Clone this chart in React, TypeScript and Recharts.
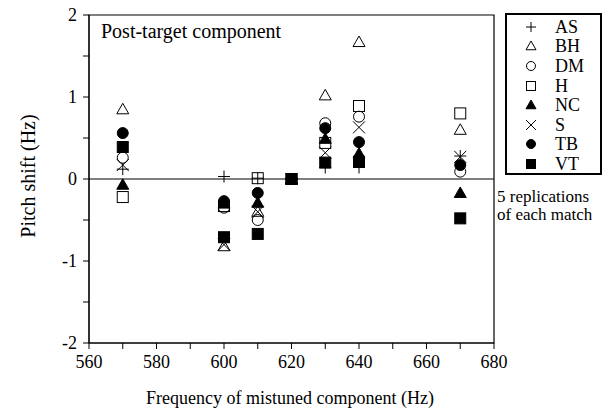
import React from "react";
import {
  ScatterChart,
  Scatter,
  XAxis,
  YAxis,
  ReferenceLine,
  ReferenceArea,
} from "recharts";

// mistuned component frequencies (Hz)
const freqs = [570, 600, 610, 620, 630, 640, 670];

// pitch shift (Hz) per listener, one value per frequency
const asShift = [0.12, 0.03, 0.01, 0, 0.14, 0.14, 0.28];
const bhShift = [0.85, -0.82, -0.4, 0, 1.02, 1.67, 0.6];
const dmShift = [0.26, -0.35, -0.5, 0, 0.68, 0.76, 0.09];
const hShift = [-0.22, -0.33, 0.01, 0, 0.44, 0.89, 0.8];
const ncShift = [-0.07, -0.3, -0.29, 0, 0.49, 0.31, -0.17];
const sShift = [0.17, -0.8, -0.4, 0, 0.32, 0.63, 0.27];
const tbShift = [0.56, -0.27, -0.17, 0, 0.62, 0.45, 0.17];
const vtShift = [0.39, -0.71, -0.67, 0, 0.2, 0.21, -0.48];

const xTicks = [560, 570, 580, 590, 600, 610, 620, 630, 640, 650, 660, 670, 680];
const yTicks = [-2, -1.5, -1, -0.5, 0, 0.5, 1, 1.5, 2];

type Kind = "plus" | "tri" | "circle" | "square" | "triFill" | "cross" | "dot" | "block";

const series: { name: string; kind: Kind; values: number[] }[] = [
  { name: "AS", kind: "plus", values: asShift },
  { name: "BH", kind: "tri", values: bhShift },
  { name: "DM", kind: "circle", values: dmShift },
  { name: "H", kind: "square", values: hShift },
  { name: "NC", kind: "triFill", values: ncShift },
  { name: "S", kind: "cross", values: sShift },
  { name: "TB", kind: "dot", values: tbShift },
  { name: "VT", kind: "block", values: vtShift },
];

const FONT = "'Times New Roman', 'Liberation Serif', Times, serif";

const Marker = ({ cx, cy, kind, r = 6 }: { cx: number; cy: number; kind: Kind; r?: number }) => {
  const s = 1;
  switch (kind) {
    case "plus":
      return (
        <g stroke="#000" strokeWidth={s}>
          <line x1={cx - r} y1={cy} x2={cx + r} y2={cy} />
          <line x1={cx} y1={cy - r} x2={cx} y2={cy + r} />
        </g>
      );
    case "cross":
      return (
        <g stroke="#000" strokeWidth={s}>
          <line x1={cx - r} y1={cy - r} x2={cx + r} y2={cy + r} />
          <line x1={cx - r} y1={cy + r} x2={cx + r} y2={cy - r} />
        </g>
      );
    case "tri":
    case "triFill": {
      const pts = `${cx},${cy - r} ${cx + r},${cy + r * 0.75} ${cx - r},${cy + r * 0.75}`;
      return (
        <polygon
          points={pts}
          fill={kind === "tri" ? "none" : "#000"}
          stroke="#000"
          strokeWidth={s}
        />
      );
    }
    case "circle":
    case "dot":
      return (
        <circle
          cx={cx}
          cy={cy}
          r={r - 0.5}
          fill={kind === "circle" ? "none" : "#000"}
          stroke="#000"
          strokeWidth={s}
        />
      );
    default:
      return (
        <rect
          x={cx - r + 0.5}
          y={cy - r + 0.5}
          width={2 * r - 1}
          height={2 * r - 1}
          fill={kind === "square" ? "none" : "#000"}
          stroke="#000"
          strokeWidth={s}
        />
      );
  }
};

const LegendBox = () => (
  <div
    style={{
      position: "absolute",
      left: 505,
      top: 13,
      width: 97,
      height: 162,
      border: "2px solid #000",
      boxSizing: "border-box",
      paddingTop: 2,
      fontFamily: FONT,
      fontSize: 18,
    }}
  >
    {series.map((s) => (
      <div key={s.name} style={{ display: "flex", alignItems: "center", height: 19.6 }}>
        <svg width={40} height={16} style={{ marginLeft: 4 }}>
          <Marker cx={20} cy={8} kind={s.kind} r={5} />
        </svg>
        <span style={{ marginLeft: 4, lineHeight: "16px" }}>{s.name}</span>
      </div>
    ))}
  </div>
);

export default function App() {
  return (
    <div style={{ position: "absolute", left: 0, top: 0, width: 610, height: 419, background: "#fff", overflow: "hidden" }}>
      <ScatterChart
        width={610}
        height={419}
        margin={{ top: 15, right: 116, bottom: 46, left: 49 }}
      >
        <XAxis
          type="number"
          dataKey="x"
          domain={[560, 680]}
          ticks={xTicks}
          interval={0}
          tickFormatter={(v: number) => (v % 20 === 0 ? String(v) : "")}
          height={30}
          stroke="#000"
          tickSize={6}
          tickMargin={6}
          tick={{ fill: "#000", fontSize: 18, fontFamily: FONT }}
        />
        <YAxis
          type="number"
          dataKey="y"
          domain={[-2, 2]}
          ticks={yTicks}
          interval={0}
          tickFormatter={(v: number) => (Number.isInteger(v) ? String(v) : "")}
          width={40}
          stroke="#000"
          tickSize={6}
          tickMargin={6}
          tick={{ fill: "#000", fontSize: 18, fontFamily: FONT }}
        />
        <ReferenceArea x1={560} x2={680} y1={-2} y2={2} fill="none" stroke="#000" strokeWidth={1.2} />
        <ReferenceLine y={0} stroke="#000" strokeWidth={1.2} />
        {series.map((s) => (
          <Scatter
            key={s.name}
            name={s.name}
            data={freqs.map((f, i) => ({ x: f, y: s.values[i] }))}
            isAnimationActive={false}
            shape={(p: any) => <Marker cx={p.cx} cy={p.cy} kind={s.kind} />}
          />
        ))}
      </ScatterChart>
      <div style={{ position: "absolute", left: 101, top: 20, fontFamily: FONT, fontSize: 20 }}>
        Post-target component
      </div>
      <div
        style={{
          position: "absolute",
          left: 28,
          top: 176,
          transform: "translate(-50%, -50%) rotate(-90deg)",
          whiteSpace: "nowrap",
          fontFamily: FONT,
          fontSize: 20,
        }}
      >
        Pitch shift (Hz)
      </div>
      <div
        style={{
          position: "absolute",
          left: 290,
          top: 398,
          transform: "translate(-50%, -50%)",
          whiteSpace: "nowrap",
          fontFamily: FONT,
          fontSize: 18,
        }}
      >
        Frequency of mistuned component (Hz)
      </div>
      <LegendBox />
      <div
        style={{
          position: "absolute",
          left: 497,
          top: 188,
          whiteSpace: "nowrap",
          fontFamily: FONT,
          fontSize: 17,
          lineHeight: "18px",
        }}
      >
        5 replications
        <br />
        of each match
      </div>
    </div>
  );
}
